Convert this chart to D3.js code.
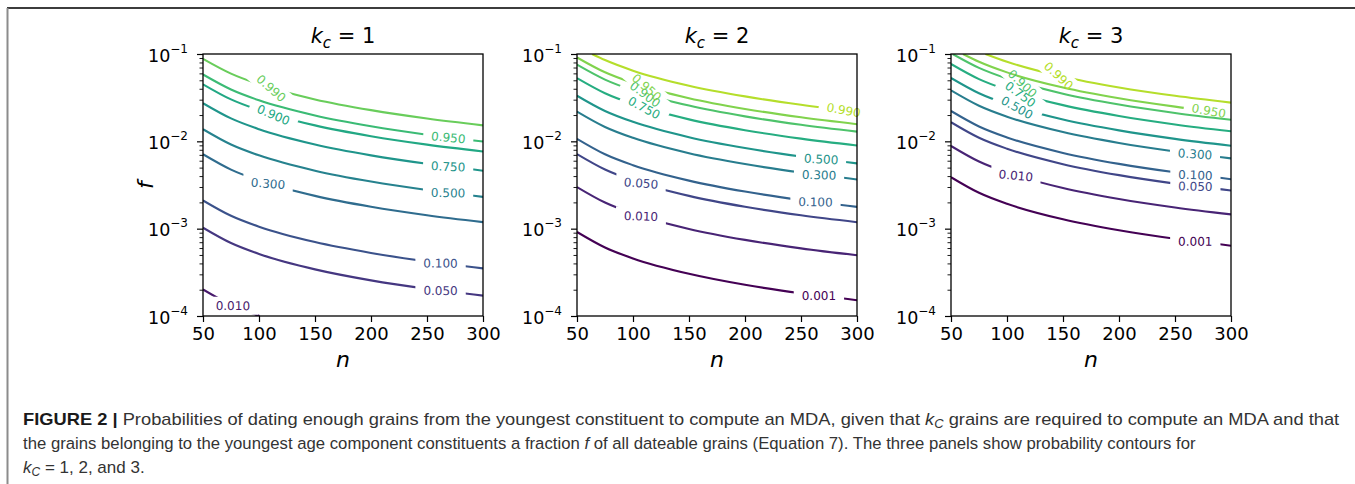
<!DOCTYPE html>
<html>
<head>
<meta charset="utf-8">
<script src="https://cdn.jsdelivr.net/npm/d3@7"></script>
<style>
  body { margin: 0; background: #fff; }
  svg { display: block; }
</style>
</head>
<body>
<svg id="fig" width="1355" height="484"></svg>
<script>
// ── Contour levels (probability) ─────────────────────────────────────────
const LEVELS = [0.001, 0.01, 0.05, 0.1, 0.3, 0.5, 0.75, 0.9, 0.95, 0.99];
const K_VALUES = [1, 2, 3];
const X_TICKS = [50, 100, 150, 200, 250, 300];
const Y_TICKS = [1e-4, 1e-3, 1e-2, 1e-1];

// ── Contour lines, [n, f] per level (null = not shown) ─
const linesK1 = [
  null,
  [[50, 2.01e-4], [75, 1.34e-4], [100.5, 1.0e-4]],
  [[50, 1.025e-3], [75, 6.84e-4], [100, 5.13e-4], [150, 3.42e-4], [200, 2.56e-4], [250, 2.05e-4], [300, 1.71e-4]],
  [[50, 2.105e-3], [75, 1.404e-3], [100, 1.053e-3], [150, 7.02e-4], [200, 5.27e-4], [250, 4.21e-4], [300, 3.51e-4]],
  [[50, 7.11e-3], [75, 4.74e-3], [100, 3.56e-3], [150, 2.375e-3], [200, 1.782e-3], [250, 1.426e-3], [300, 1.188e-3]],
  [[50, 1.377e-2], [75, 9.20e-3], [100, 6.91e-3], [150, 4.61e-3], [200, 3.46e-3], [250, 2.77e-3], [300, 2.31e-3]],
  [[50, 2.735e-2], [75, 1.831e-2], [100, 1.377e-2], [150, 9.20e-3], [200, 6.91e-3], [250, 5.53e-3], [300, 4.61e-3]],
  [[50, 4.50e-2], [75, 3.02e-2], [100, 2.276e-2], [150, 1.523e-2], [200, 1.145e-2], [250, 9.17e-3], [300, 7.65e-3]],
  [[50, 5.82e-2], [75, 3.92e-2], [100, 2.95e-2], [150, 1.977e-2], [200, 1.487e-2], [250, 1.191e-2], [300, 9.94e-3]],
  [[50, 8.80e-2], [75, 5.96e-2], [100, 4.50e-2], [150, 3.02e-2], [200, 2.276e-2], [250, 1.825e-2], [300, 1.523e-2]]
];
const linesK2 = [
  [[50, 9.17e-4], [75, 6.09e-4], [100, 4.56e-4], [150, 3.04e-4], [200, 2.275e-4], [250, 1.82e-4], [300, 1.516e-4]],
  [[50, 2.997e-3], [75, 1.992e-3], [100, 1.492e-3], [150, 9.93e-4], [200, 7.44e-4], [250, 5.95e-4], [300, 4.96e-4]],
  [[50, 7.15e-3], [75, 4.76e-3], [100, 3.565e-3], [150, 2.374e-3], [200, 1.780e-3], [250, 1.423e-3], [300, 1.186e-3]],
  [[50, 1.069e-2], [75, 7.11e-3], [100, 5.33e-3], [150, 3.551e-3], [200, 2.662e-3], [250, 2.129e-3], [300, 1.774e-3]],
  [[50, 2.193e-2], [75, 1.462e-2], [100, 1.097e-2], [150, 7.31e-3], [200, 5.49e-3], [250, 4.39e-3], [300, 3.657e-3]],
  [[50, 3.334e-2], [75, 2.228e-2], [100, 1.673e-2], [150, 1.116e-2], [200, 8.38e-3], [250, 6.70e-3], [300, 5.59e-3]],
  [[50, 5.29e-2], [75, 3.55e-2], [100, 2.67e-2], [150, 1.785e-2], [200, 1.341e-2], [250, 1.073e-2], [300, 8.95e-3]],
  [[50, 7.55e-2], [75, 5.09e-2], [100, 3.83e-2], [150, 2.568e-2], [200, 1.931e-2], [250, 1.547e-2], [300, 1.290e-2]],
  [[50, 9.13e-2], [75, 6.17e-2], [100, 4.66e-2], [150, 3.12e-2], [200, 2.35e-2], [250, 1.884e-2], [300, 1.571e-2]],
  [[63.4, 1.0e-1], [75, 8.52e-2], [100, 6.45e-2], [150, 4.34e-2], [200, 3.27e-2], [250, 2.625e-2], [300, 2.19e-2]]
];
const linesK3 = [
  [[50, 3.883e-3], [75, 2.573e-3], [100, 1.924e-3], [150, 1.279e-3], [200, 9.58e-4], [250, 7.65e-4], [300, 6.375e-4]],
  [[50, 8.86e-3], [75, 5.875e-3], [100, 4.395e-3], [150, 2.922e-3], [200, 2.189e-3], [250, 1.750e-3], [300, 1.457e-3]],
  [[50, 1.655e-2], [75, 1.099e-2], [100, 8.23e-3], [150, 5.474e-3], [200, 4.102e-3], [250, 3.279e-3], [300, 2.732e-3]],
  [[50, 2.2245e-2], [75, 1.479e-2], [100, 1.107e-2], [150, 7.37e-3], [200, 5.524e-3], [250, 4.417e-3], [300, 3.68e-3]],
  [[50, 3.83e-2], [75, 2.553e-2], [100, 1.914e-2], [150, 1.276e-2], [200, 9.57e-3], [250, 7.656e-3], [300, 6.379e-3]],
  [[50, 5.31e-2], [75, 3.549e-2], [100, 2.665e-2], [150, 1.779e-2], [200, 1.335e-2], [250, 1.068e-2], [300, 8.90e-3]],
  [[50, 7.69e-2], [75, 5.16e-2], [100, 3.883e-2], [150, 2.597e-2], [200, 1.951e-2], [250, 1.562e-2], [300, 1.303e-2]],
  [[51.5, 1.0e-1], [75, 6.94e-2], [100, 5.234e-2], [150, 3.509e-2], [200, 2.639e-2], [250, 2.115e-2], [300, 1.764e-2]],
  [[60.7, 1.0e-1], [75, 8.15e-2], [100, 6.16e-2], [150, 4.133e-2], [200, 3.114e-2], [250, 2.497e-2], [300, 2.084e-2]],
  [[80.7, 1.0e-1], [100, 8.14e-2], [150, 5.48e-2], [200, 4.136e-2], [250, 3.319e-2], [300, 2.772e-2]]
];

// ── Where the inline labels sit along each line (n) ──────────────────────
const labelNK1 = [null, 76.5, 262, 262, 108, 269, 269, 113, 269, 111];
const labelNK2 = [266, 107, 107, 263, 266, 268, 110, 111, 112, 288];
const labelNK3 = [268, 108, 268, 268, 268, 109, 112, 114, 280, 146];

// ── Viridis position for each level, per panel ───────────────────────────
const tintK1 = [0.00, 0.07, 0.16, 0.25, 0.35, 0.44, 0.52, 0.60, 0.68, 0.77];
const tintK2 = [0.00, 0.10, 0.21, 0.31, 0.42, 0.52, 0.62, 0.72, 0.81, 0.89];
const tintK3 = [0.00, 0.10, 0.21, 0.31, 0.42, 0.52, 0.62, 0.72, 0.81, 0.89];

const panels = [
  { k: K_VALUES[0], lines: linesK1, labelN: labelNK1, tint: tintK1 },
  { k: K_VALUES[1], lines: linesK2, labelN: labelNK2, tint: tintK2 },
  { k: K_VALUES[2], lines: linesK3, labelN: labelNK3, tint: tintK3 }
];

// ── Layout ────────────────────────────────────────────────────────────────
const W = 280, H = 262, TOP = 54;
const LEFTS = [203, 577, 951];
const MPL = "'DejaVu Sans', sans-serif";

const svg = d3.select("#fig");
const defs = svg.append("defs");

// frame of the figure box
svg.append("line").attr("x1", 7).attr("x2", 1355).attr("y1", 8).attr("y2", 8)
  .attr("stroke", "#3c3c3c").attr("stroke-width", 2);
svg.append("line").attr("x1", 7.5).attr("x2", 7.5).attr("y1", 8).attr("y2", 484)
  .attr("stroke", "#8c8c8c").attr("stroke-width", 2);

const x = d3.scaleLinear().domain([50, 300]).range([0, W]);
const y = d3.scaleLog().domain([1e-4, 1e-1]).range([H, 0]);
// the label angles in the original follow the lines as if f were linear
const yLin = d3.scaleLinear().domain([1e-4, 1e-1]).range([H, 0]);
const line = d3.line().x(d => x(d[0])).y(d => y(d[1])).curve(d3.curveMonotoneX);
const lineLin = d3.line().x(d => x(d[0])).y(d => yLin(d[1])).curve(d3.curveMonotoneX);
const fmt = d3.format(".3f");

function sampler(node) {
  const total = node.getTotalLength();
  const samples = d3.range(0, total, 0.5).map(l => node.getPointAtLength(l));
  return px => samples[d3.minIndex(samples, s => Math.abs(s.x - px))];
}

panels.forEach((p, pi) => {
  const g = svg.append("g").attr("transform", `translate(${LEFTS[pi]},${TOP})`);

  defs.append("clipPath").attr("id", `clip${pi}`)
    .append("rect").attr("x", 0).attr("y", 0).attr("width", W).attr("height", H);

  const gLines = g.append("g");
  const gLabels = g.append("g");

  LEVELS.forEach((lev, li) => {
    const pts = p.lines[li];
    if (!pts) return;
    const col = d3.interpolateViridis(p.tint[li]);

    const path = gLines.append("path")
      .attr("d", line(pts))
      .attr("fill", "none")
      .attr("stroke", col)
      .attr("stroke-width", 2.1)
      .attr("clip-path", `url(#clip${pi})`);

    const ln = p.labelN[li];
    if (ln == null) return;

    const tx = x(ln);
    const c = sampler(path.node())(tx);
    const ghost = defs.append("path").attr("d", lineLin(pts));
    const nearLin = sampler(ghost.node());
    const a = nearLin(tx - 10), b = nearLin(tx + 10);
    ghost.remove();
    const ang = Math.atan2(b.y - a.y, b.x - a.x) * 180 / Math.PI;
    const tf = `translate(${c.x},${c.y}) rotate(${ang})`;

    const t = gLabels.append("text")
      .attr("transform", tf)
      .attr("text-anchor", "middle")
      .attr("dy", "0.36em")
      .attr("font-family", MPL)
      .attr("font-size", 12)
      .attr("fill", col)
      .text(fmt(lev));
    const tw = t.node().getComputedTextLength();

    const mask = defs.append("mask").attr("id", `m${pi}-${li}`)
      .attr("maskUnits", "userSpaceOnUse")
      .attr("x", -50).attr("y", -50).attr("width", W + 100).attr("height", H + 100);
    mask.append("rect").attr("x", -50).attr("y", -50).attr("width", W + 100).attr("height", H + 100)
      .attr("fill", "#fff");
    mask.append("rect").attr("transform", tf)
      .attr("x", -tw / 2 - 8).attr("y", -9).attr("width", tw + 16).attr("height", 18)
      .attr("fill", "#000");
    path.attr("mask", `url(#m${pi}-${li})`);
  });

  // ── Axes ──────────────────────────────────────────────────────────────
  const xAxis = g.append("g").attr("transform", `translate(0,${H})`)
    .call(d3.axisBottom(x).tickValues(X_TICKS).tickSize(6).tickPadding(5).tickFormat(d3.format("d")));
  xAxis.select(".domain").remove();
  xAxis.selectAll("text").attr("font-family", MPL).attr("font-size", 18).attr("fill", "#000");
  xAxis.selectAll("line").attr("stroke", "#000").attr("stroke-width", 1.2);

  const minors = y.ticks().filter(v => !Y_TICKS.some(m => Math.abs(v / m - 1) < 1e-6));
  const yMinor = g.append("g")
    .call(d3.axisLeft(y).tickValues(minors).tickSize(3.5).tickFormat(""));
  yMinor.select(".domain").remove();
  yMinor.selectAll("line").attr("stroke", "#000").attr("stroke-width", 0.9);

  const yAxis = g.append("g")
    .call(d3.axisLeft(y).tickValues(Y_TICKS).tickSize(6).tickPadding(9).tickFormat(""));
  yAxis.select(".domain").remove();
  yAxis.selectAll("line").attr("stroke", "#000").attr("stroke-width", 1.2);
  yAxis.selectAll(".tick text").each(function (d) {
    const t = d3.select(this).text(null)
      .attr("font-family", MPL).attr("font-size", 17.5).attr("fill", "#000")
      .attr("dy", null).attr("y", 7);
    t.append("tspan").text("10");
    t.append("tspan").attr("dy", -9).attr("font-size", 12)
      .text("\u2212" + Math.round(-Math.log10(d)));
  });

  g.append("rect").attr("x", 0).attr("y", 0).attr("width", W).attr("height", H)
    .attr("fill", "none").attr("stroke", "#000").attr("stroke-width", 1.3);

  // title  k_c = k
  const title = g.append("text").attr("x", W / 2).attr("y", -11)
    .attr("text-anchor", "middle").attr("font-family", MPL).attr("font-size", 21).attr("fill", "#000");
  title.append("tspan").attr("font-style", "italic").text("k");
  title.append("tspan").attr("font-style", "italic").attr("font-size", 15).attr("dy", 5).text("c");
  title.append("tspan").attr("dy", -5).text(" = " + p.k);

  // x label
  g.append("text").attr("x", W / 2).attr("y", 313)
    .attr("text-anchor", "middle").attr("font-family", MPL).attr("font-size", 22)
    .attr("font-style", "italic").text("n");

  if (pi === 0) {
    g.append("text").attr("transform", `translate(-50,${H / 2}) rotate(-90)`)
      .attr("text-anchor", "middle").attr("font-family", MPL).attr("font-size", 22)
      .attr("font-style", "italic").text("f");
  }
});

// ── Caption ───────────────────────────────────────────────────────────────
const CAP = "'Liberation Sans', Arial, sans-serif";
const cap = svg.append("g").attr("font-family", CAP).attr("font-size", 17).attr("fill", "#333");

// squeeze a caption line to the width it has in the original
function fitLine(sel, baseY, width) {
  const w = sel.node().getBBox().width;
  sel.attr("transform", `translate(23,${baseY}) scale(${width / w},1)`);
}

const l1 = cap.append("text").attr("x", 0).attr("y", 0);
l1.append("tspan").attr("font-weight", "bold").attr("fill", "#1a1a1a").text("FIGURE 2 |");
l1.append("tspan").text(" Probabilities of dating enough grains from the youngest constituent to compute an MDA, given that ");
l1.append("tspan").attr("font-style", "italic").text("k");
l1.append("tspan").attr("font-style", "italic").attr("font-size", 12).attr("dy", 3).text("C");
l1.append("tspan").attr("dy", -3).text(" grains are required to compute an MDA and that");
fitLine(l1, 425, 1317);

const l2 = cap.append("text").attr("x", 0).attr("y", 0);
l2.append("tspan").text("the grains belonging to the youngest age component constituents a fraction ");
l2.append("tspan").attr("font-style", "italic").text("f");
l2.append("tspan").text(" of all dateable grains (Equation 7). The three panels show probability contours for");
fitLine(l2, 449, 1173);

const l3 = cap.append("text").attr("x", 23).attr("y", 473);
l3.append("tspan").attr("font-style", "italic").text("k");
l3.append("tspan").attr("font-style", "italic").attr("font-size", 12).attr("dy", 3).text("C");
l3.append("tspan").attr("dy", -3).text(" = 1, 2, and 3.");
</script>
</body>
</html>
